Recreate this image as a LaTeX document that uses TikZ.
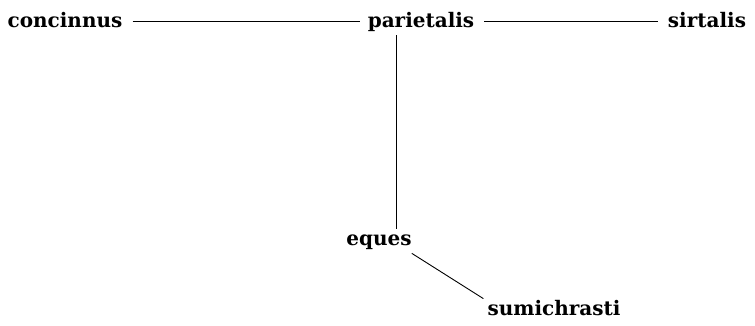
\documentclass[tikz,border=0pt]{standalone}
\usepackage{fontspec}
\setmainfont{DejaVu Serif}
\begin{document}
\begin{tikzpicture}[x=1pt,y=-1pt,
  taxon/.style={inner sep=0pt,font=\bfseries\fontsize{20}{24}\selectfont,anchor=base},
  link/.style={line width=0.9pt,black}]
\useasboundingbox (0,0) rectangle (755,325);
\node[taxon] (concinnus) at (65,27) {concinnus};
\node[taxon] (parietalis) at (421,27) {parietalis};
\node[taxon] (sirtalis) at (707,27) {sirtalis};
\node[taxon] (eques) at (379,245) {eques};
\node[taxon] (sumichrasti) at (554,315) {sumichrasti};
\draw[link] ([xshift=10pt,yshift=3pt]concinnus.mid east) -- ([xshift=-8pt,yshift=3pt]parietalis.mid west);
\draw[link] ([xshift=10pt,yshift=3pt]parietalis.mid east) -- ([xshift=-10pt,yshift=3pt]sirtalis.mid west);
\draw[link] ([xshift=-25pt,yshift=-4pt]parietalis.south) -- ([xshift=17pt,yshift=5pt]eques.north);
\draw[link] ([xshift=0pt,yshift=-4pt]eques.south east) -- ([xshift=-4pt,yshift=1pt]sumichrasti.north west);
\end{tikzpicture}
\end{document}
